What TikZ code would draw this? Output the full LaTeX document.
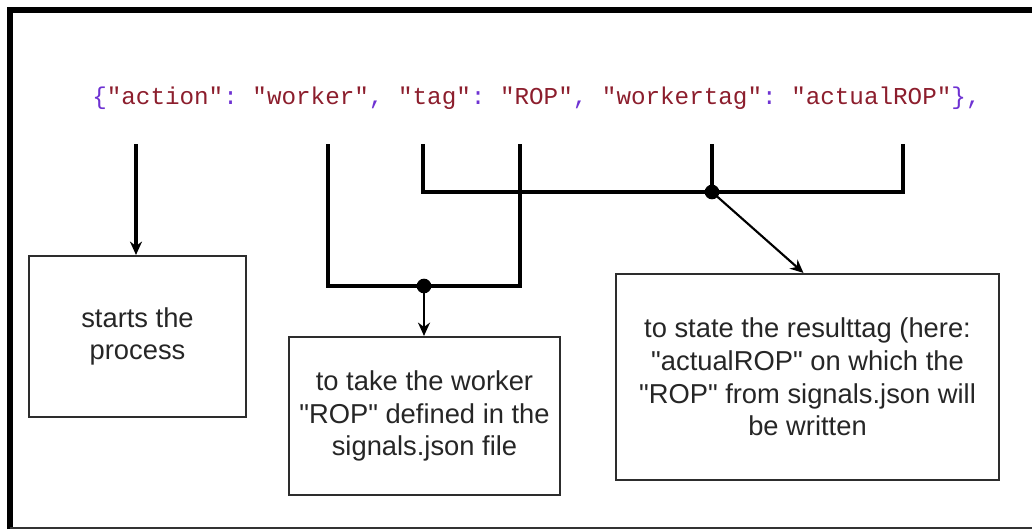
\documentclass[tikz,border=0pt]{standalone}
\usepackage{fontspec}
\setmainfont{Liberation Sans}[Ligatures=TeXOff]
\setmonofont{Liberation Mono}[Ligatures=TeXOff]
\usetikzlibrary{arrows.meta}

\definecolor{jsonstr}{RGB}{140,30,45}
\definecolor{jsonpunct}{RGB}{110,50,210}
\definecolor{boxline}{RGB}{45,45,45}
\newcommand\jstr[1]{\textcolor{jsonstr}{"#1"}}
\newcommand\jpun[1]{\textcolor{jsonpunct}{#1}}

\tikzset{
  infobox/.style={draw=boxline, line width=1.6pt, align=center, inner sep=0pt,
    text=black!85, font=\fontsize{20.5}{24.5}\selectfont},
  bracket/.style={line width=2.9pt},
  pointer/.style={line width=2.2pt, -{Stealth[length=10pt,width=9pt]}},
  junction/.style={circle, fill, inner sep=0pt, minimum size=11pt}
}

\begin{document}
\begin{tikzpicture}[x=0.75pt, y=-0.75pt]
\useasboundingbox (0,0) rectangle (1032,529);
% frame
\draw [line width=4.8pt] (10,529) -- (10,10) -- (1032,10);
\draw [line width=1.5pt, black!80] (10,527.5) -- (1032,527.5);

% the json line
\node [anchor=base west, inner sep=0pt, font=\ttfamily\fontsize{18.2}{20}\selectfont] (json) at (92,104)
  {\jpun{\{}\jstr{action}\jpun{:} \jstr{worker}\jpun{,} \jstr{tag}\jpun{:} \jstr{ROP}\jpun{,} \jstr{workertag}\jpun{:} \jstr{actualROP}\jpun{\}}\jpun{,}};

% tops of the lines
\coordinate (act) at (136,144);
\coordinate (wk) at (328,144);
\coordinate (tg) at (423,144);
\coordinate (rop) at (520,144);
\coordinate (wtag) at (712,144);
\coordinate (res) at (903,144);

% boxes
\node [infobox, minimum width=162.75pt, minimum height=120.75pt] (start) at (137.5,336.5) {starts the\\process};
\node [infobox, minimum width=203.25pt, minimum height=118.5pt] (take) at (424.5,416) {to take the worker\\"ROP" defined in the\\signals.json file};
\node [infobox, minimum width=287.25pt, minimum height=154.5pt] (state) at (807.5,377) {to state the resulttag (here:\\"actualROP" on which the\\"ROP" from signals.json will\\be written};

% junctions
\node [junction] (jtake) at (424,286) {};
\node [junction] (jstate) at (712,192) {};

\draw [bracket] (wk) |- (jtake.center) -| (rop);
\draw [bracket] (tg) |- (jstate.center) -| (res);
\draw [bracket] (wtag) -- (jstate.center);

\draw [pointer, line width=2.8pt] (act) -- (act |- start.north);
\draw [pointer] (jtake.center) -- (jtake |- take.north);
\draw [pointer, line width=1.6pt] (jstate.center) -- ([xshift=-3pt]state.north);
\end{tikzpicture}
\end{document}
